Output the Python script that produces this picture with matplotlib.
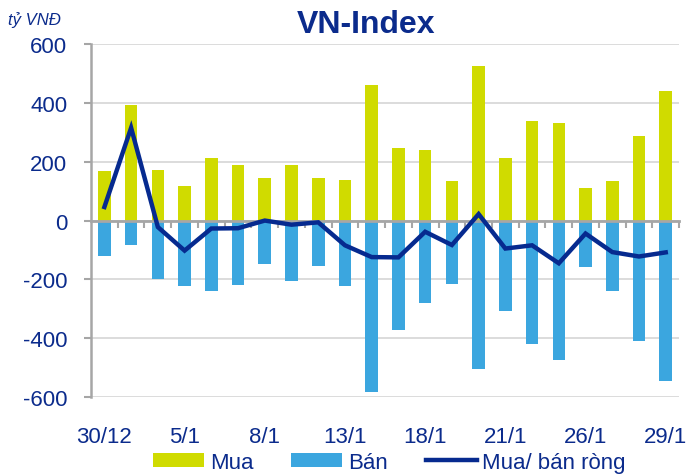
import numpy as np
import matplotlib
matplotlib.use("Agg")
import matplotlib.pyplot as plt
from matplotlib.ticker import FixedLocator

plt.rcParams['font.family'] = ['Liberation Sans', 'DejaVu Sans']
plt.rcParams['axes.unicode_minus'] = False

# data (ty VND)
dates = ['30/12', '', '', '5/1', '', '', '8/1', '', '', '13/1', '', '',
         '18/1', '', '', '21/1', '', '', '26/1', '', '', '29/1']
mua = [167, 391, 173, 119, 211, 190, 143, 187, 146, 139, 459,
       245, 241, 133, 524, 211, 337, 330, 112, 133, 286, 439]
ban = [-121, -84, -197, -223, -240, -218, -149, -204, -155, -223, -583,
       -372, -281, -216, -505, -308, -420, -475, -159, -240, -410, -545]
rong = [46, 315, -22, -102, -27, -26, 0, -14, -6, -84, -124,
        -125, -38, -83, 22, -95, -84, -145, -44, -107, -122, -108]

navy = '#0B2B8C'
c_mua = '#D0DB00'
c_ban = '#3BA6DF'
c_line = '#062A8F'

fig = plt.figure(figsize=(6.87, 4.77), dpi=100)
ax = fig.add_axes([0.1325, 0.165, 0.856, 0.741])

x = np.arange(len(mua))
b1 = ax.bar(x, mua, width=0.47, color=c_mua, label='Mua', zorder=2)
b2 = ax.bar(x, ban, width=0.47, color=c_ban, label='Bán', zorder=2)
ln, = ax.plot(x, rong, color=c_line, lw=3.2, label='Mua/ bán ròng', zorder=4,
              solid_joinstyle='miter')

ax.set_xlim(-0.5, len(mua) - 0.5)
ax.set_ylim(-600, 600)
ax.set_yticks([-600, -400, -200, 0, 200, 400, 600])
ax.yaxis.grid(True, color='#D9D9D9', lw=1.3, zorder=0)
ax.tick_params(axis='y', length=5, width=1.5, color='#A6A6A6', pad=12,
               labelsize=16, labelcolor=navy)

for s in ['top', 'right']:
    ax.spines[s].set_visible(False)
ax.spines['left'].set_color('#A6A6A6')
ax.spines['left'].set_linewidth(1.8)
ax.spines['bottom'].set_position(('data', 0))
ax.spines['bottom'].set_color('#A6A6A6')
ax.spines['bottom'].set_linewidth(2)
ax.spines['bottom'].set_zorder(3)

# category boundary ticks on the zero line
ax.xaxis.set_major_locator(FixedLocator(x[1:] - 0.5 + 1e-9))
ax.xaxis.set_minor_locator(FixedLocator([len(mua) - 0.5]))
ax.tick_params(axis='x', which='both', length=5, width=1.5, color='#A6A6A6',
               labelbottom=False, direction='out')

# date labels under the plot area
sec = ax.secondary_xaxis(0)
sec.set_xticks(x)
sec.set_xticklabels(dates)
sec.tick_params(length=0, pad=21, labelsize=16, labelcolor=navy)
sec.spines['bottom'].set_visible(False)

fig.text(0.533, 0.947, 'VN-Index', ha='center', va='center',
         fontsize=23, fontweight='bold', color=navy)
fig.text(0.012, 0.958, 'tỷ VNĐ', ha='left', va='center',
         fontsize=12, style='italic', color=navy)

fig.legend([b1, b2, ln], ['Mua', 'Bán', 'Mua/ bán ròng'],
           loc='center', bbox_to_anchor=(0.567, 0.029), ncol=3,
           frameon=False, fontsize=16, labelcolor=navy,
           handlelength=2.3, handleheight=0.55, handletextpad=0.25,
           columnspacing=1.7, borderpad=0)

fig.savefig('out.png', dpi=100)
